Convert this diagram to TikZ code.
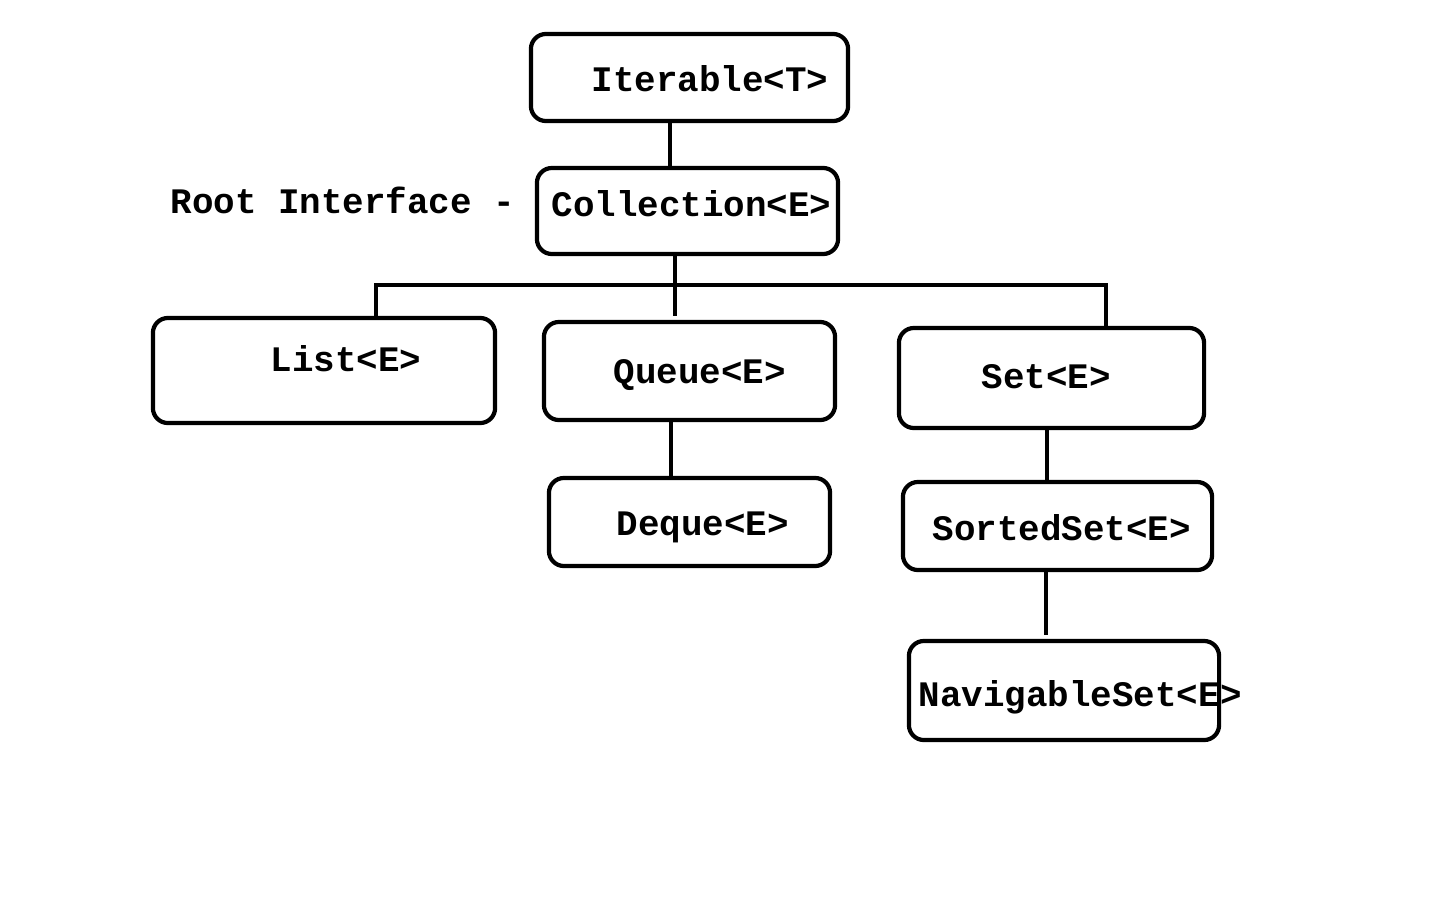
\documentclass[tikz,border=0pt]{standalone}
\usepackage{fontspec}
\setmonofont{Liberation Mono}
\usepackage{tikz}
\usetikzlibrary{calc}

\newcommand{\codefont}{\ttfamily\bfseries\fontsize{10.2}{12}\selectfont}

\begin{document}
\begin{tikzpicture}[
  x=0.01cm,y=-0.01cm,
  box/.style={draw, rounded corners=0.15cm, line width=1.2pt, inner sep=0pt},
  txt/.style={font=\codefont, inner sep=0pt, anchor=base west},
  link/.style={line width=1.2pt}
]
\useasboundingbox (0,0) rectangle (1440,900);
% boxes
\node[box, minimum width=3.17cm, minimum height=0.87cm] (iter) at (689.5,77.5) {};
\node[box, minimum width=3.01cm, minimum height=0.86cm] (coll) at (687.5,211) {};
\node[box, minimum width=3.42cm, minimum height=1.05cm] (list) at (324,370.5) {};
\node[box, minimum width=2.91cm, minimum height=0.98cm] (queue) at (689.5,371) {};
\node[box, minimum width=2.81cm, minimum height=0.88cm] (deque) at (689.5,522) {};
\node[box, minimum width=3.05cm, minimum height=1.00cm] (set) at (1051.5,378) {};
\node[box, minimum width=3.09cm, minimum height=0.88cm] (sorted) at (1057.5,526) {};
\node[box, minimum width=3.10cm, minimum height=0.99cm] (nav) at (1064,690.5) {};
% texts
\node[txt] (iter-t) at (591,91) {Iterable<T>};
\node[txt] (coll-t) at (551,216) {Collection<E>};
\node[txt] (root-t) at (170,213) {Root Interface -};
\node[txt] (list-t) at (270,371) {List<E>};
\node[txt] (queue-t) at (613,383) {Queue<E>};
\node[txt] (deque-t) at (616,535) {Deque<E>};
\node[txt] (set-t) at (981,388) {Set<E>};
\node[txt] (sorted-t) at (932,540) {SortedSet<E>};
\node[txt] (nav-t) at (918,706) {NavigableSet<E>};
% connectors
\coordinate (busl) at (376,285);
\coordinate (busr) at (1106,285);
\draw[link] ($(iter.south)+(-19.5,0)$) -- ($(coll.north)+(-17.5,0)$);
\draw[link] ($(coll.south)+(-12.5,0)$) -- ($(queue.north)+(-14.5,-4)$);
\draw[link] ($(list.north)+(52,0)$) -- (busl) -- (busr) -- ($(set.north)+(54.5,0)$);
\draw[link] ($(queue.south)+(-18.5,0)$) -- ($(deque.north)+(-18.5,0)$);
\draw[link] ($(set.south)+(-4.5,-4)$) -- ($(sorted.north)+(-10.5,0)$);
\draw[link] ($(sorted.south)+(-11.5,0)$) -- ($(nav.north)+(-18,-4)$);
\end{tikzpicture}
\end{document}
